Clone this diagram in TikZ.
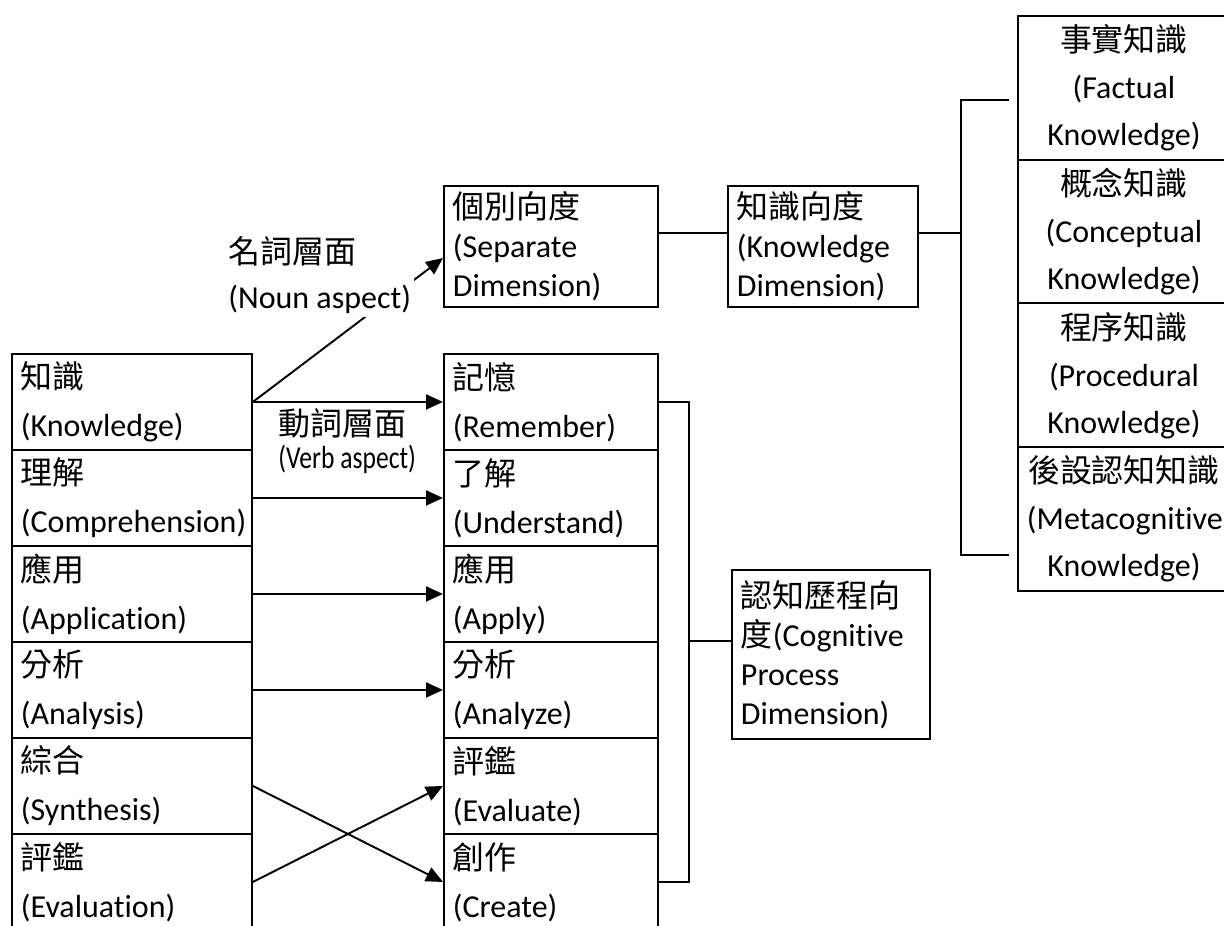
\documentclass[tikz,border=0pt]{standalone}
\usepackage{fontspec}
\setmainfont{Carlito}[Ligatures=NoCommon]
\newfontfamily\zhfont{Noto Sans CJK TC}
\newcommand{\zhtxt}[1]{{\zhfont #1}}
\usepackage{graphicx}
\usetikzlibrary{arrows.meta, positioning}

\begin{document}
\begin{tikzpicture}[x=0.02cm, y=-0.02cm, line width=1.1pt,
    arr/.style={-{Triangle[length=0.34cm, width=0.3cm]}},
    cell/.style={draw, anchor=north west, inner ysep=0pt, inner xsep=0.18cm, align=left, font=\fontsize{18.2}{27.3}\selectfont},
    oldcell/.style={cell, minimum width=4.8cm, text width=4.44cm, minimum height=1.92cm},
    newcell/.style={cell, minimum width=4.28cm, text width=3.92cm, minimum height=1.92cm},
    kindcell/.style={cell, align=center, minimum width=4.24cm, text width=3.88cm, minimum height=2.875cm, font=\fontsize{18.2}{26.7}\selectfont},
    dimbox/.style={cell, font=\fontsize{18.2}{22.2}\selectfont},
    aspect/.style={anchor=west, align=left, inner sep=2pt}]
        \useasboundingbox (0,0) rectangle (1224,926);
        % Bloom (old) and revised taxonomy
        \foreach \cn/\en [count=\i] in {知識/Knowledge, 理解/Comprehension, 應用/Application, 分析/Analysis, 綜合/Synthesis, 評鑑/Evaluation}
            \node[oldcell] (K\i) at (11,{353+96*(\i-1)}) {\zhtxt{\cn}\\(\en)};
        \foreach \cn/\en [count=\i] in {記憶/Remember, 了解/Understand, 應用/Apply, 分析/Analyze, 評鑑/Evaluate, 創作/Create}
            \node[newcell] (R\i) at (443,{353+96*(\i-1)}) {\zhtxt{\cn}\\(\en)};
        \foreach \cn/\en [count=\i] in {事實知識/Factual, 概念知識/Conceptual, 程序知識/Procedural, 後設認知知識/Metacognitive}
            \node[kindcell] (F\i) at (1017,{15+143.75*(\i-1)}) {\zhtxt{\cn}\\(\en\\Knowledge)};
        \node[dimbox, minimum width=4.28cm, text width=3.92cm, minimum height=2.42cm] (sep) at (443,185) {\zhtxt{個別向度}\\(Separate\\Dimension)};
        \node[dimbox, minimum width=3.8cm, text width=3.44cm, minimum height=2.42cm] (kdim) at (727,185) {\zhtxt{知識向度}\\(Knowledge\\Dimension)};
        \node[dimbox, minimum width=3.96cm, text width=3.6cm, minimum height=3.38cm] (cdim) at (731,569) {\zhtxt{認知歷程向}\\\zhtxt{度}(Cognitive\\Process\\Dimension)};

        \foreach \i in {1,...,4}
            \draw[arr] (K\i.east) -- (R\i.west);
        \draw[arr] (K5.east) -- (R6.west);
        \draw[arr] (K6.east) -- (R5.west);
        \draw[arr] (K1.east) -- (sep.west |- 0,258);
        \node[aspect, fill=white, font=\fontsize{18.2}{25.6}\selectfont] (noun) at (224,275) {\zhtxt{名詞層面}\\(Noun aspect)};
        \node[aspect, font=\fontsize{18.2}{18.8}\selectfont] (verb) at (274,441) {\zhtxt{動詞層面}\\\scalebox{0.8}[1]{(Verb aspect)}};

        \coordinate (kjoin) at (961,233);
        \coordinate (ktop) at (1009,100);
        \coordinate (kbot) at (1009,555);
        \draw (sep.east |- kjoin) -- (kdim.west |- kjoin);
        \draw (kdim.east |- kjoin) -- (kjoin);
        \draw (ktop) -- (ktop -| kjoin) -- (kbot -| kjoin) -- (kbot);

        \coordinate (cjoin) at (689,641);
        \draw (R1.east) -- (R1.east -| cjoin) -- (R6.east -| cjoin) -- (R6.east);
        \draw (cjoin) -- (cjoin -| cdim.west);
\end{tikzpicture}
\end{document}
